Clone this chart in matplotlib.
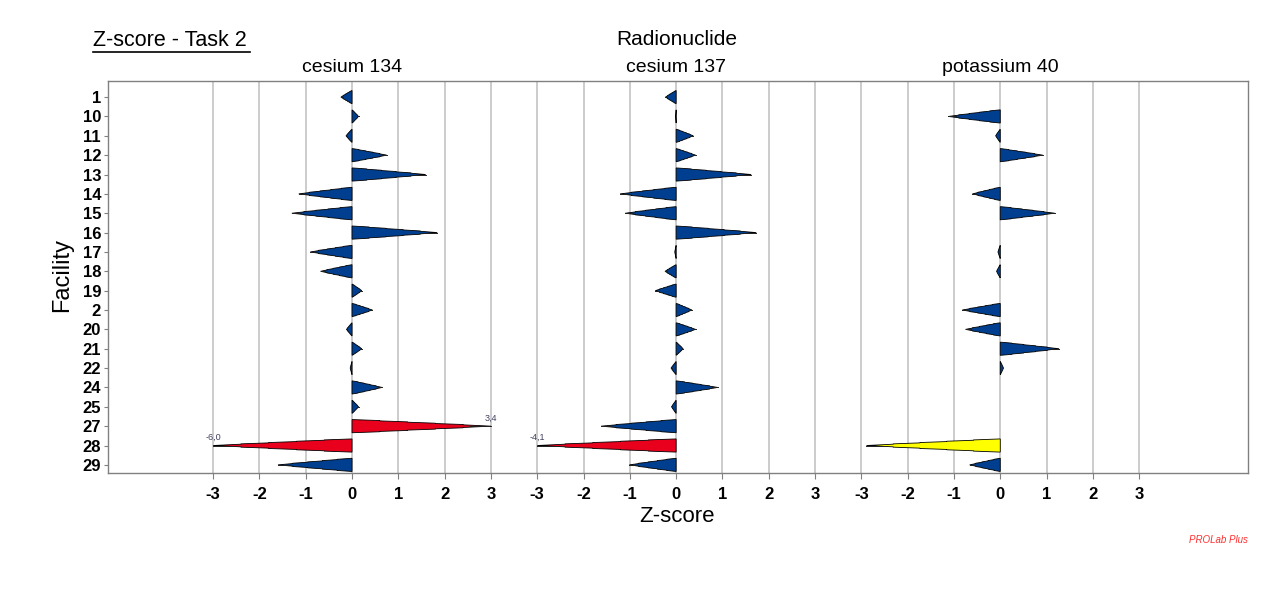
import matplotlib
matplotlib.use("Agg")
import matplotlib.pyplot as plt
from matplotlib.lines import Line2D
from matplotlib.transforms import blended_transform_factory
import numpy as np

# data
facilities = ['1', '10', '11', '12', '13', '14', '15', '16', '17', '18',
              '19', '2', '20', '21', '22', '24', '25', '27', '28', '29']
nuclides = ['cesium 134', 'cesium 137', 'potassium 40']
cs134 = [-0.24, 0.14, -0.13, 0.75, 1.59, -1.15, -1.30, 1.84, -0.90, -0.68,
         0.21, 0.44, -0.12, 0.21, -0.04, 0.65, 0.14, 3.4, -6.0, -1.60]
cs137 = [-0.23, -0.01, 0.37, 0.42, 1.62, -1.21, -1.10, 1.73, -0.03, -0.24,
         -0.45, 0.34, 0.42, 0.15, -0.11, 0.90, -0.10, -1.62, -4.1, -1.01]
k40 = [np.nan, -1.12, -0.10, 0.92, np.nan, -0.60, 1.18, np.nan, -0.05, -0.08,
       np.nan, -0.82, -0.75, 1.27, 0.07, np.nan, np.nan, np.nan, -2.89, -0.66]
series = [cs134, cs137, k40]
zticks = [-3, -2, -1, 0, 1, 2, 3]

BLUE = '#003f8f'
YELLOW = '#ffff00'
RED = '#e8001c'
FONT = ['Liberation Sans Narrow', 'Liberation Sans', 'DejaVu Sans']
SANS = ['Liberation Sans', 'DejaVu Sans']

fig = plt.figure(figsize=(12.68, 5.94), dpi=100)
ax = fig.add_axes([0.0852, 0.2037, 0.8990, 0.6599])

gap = 7.0
half = 0.34
nstep = 5

for p, vals in enumerate(series):
    off = p * gap
    for k in zticks:
        ax.axvline(off + k, color='#c8c8c8', lw=1.3, zorder=0)
    for i, v in enumerate(vals):
        if np.isnan(v):
            continue
        c = max(-3.0, min(3.0, v))
        a = abs(v)
        col = BLUE if a < 2 else (YELLOW if a < 3 else RED)
        top = []
        for s in range(nstep):
            top.append((off + c * s / nstep, i - half * (1 - s / nstep)))
            top.append((off + c * (s + 1) / nstep, i - half * (1 - (s + 0.75) / nstep)))
        top[-1] = (off + c, i)
        bot = [(x, 2 * i - y) for x, y in reversed(top)]
        poly = plt.Polygon(top + bot, closed=True, facecolor=col,
                           edgecolor='black', lw=0.6, zorder=3)
        ax.add_patch(poly)
        ax.plot([off + c * 0.85, off + c], [i, i], color='#202020', lw=0.7, zorder=4)
        if a > 3:
            ax.text(off + c, i - 0.18, ('%.1f' % v).replace('.', ','),
                    ha='center', va='bottom', fontsize=6.5, color='#404060',
                    family=SANS, zorder=5)

ax.set_xlim(-5.27, 2 * gap + 5.35)
ax.set_ylim(len(facilities) - 1 + 0.42, -0.83)

xt = [p * gap + k for p in range(3) for k in zticks]
ax.set_xticks(xt)
ax.set_xticklabels([str(k) for p in range(3) for k in zticks],
                   fontsize=12, fontweight='bold', family=FONT)
ax.set_yticks(range(len(facilities)))
ax.set_yticklabels(facilities, fontsize=12, fontweight='bold', family=FONT)
ax.tick_params(axis='x', length=4, color='#808080', pad=6)
ax.tick_params(axis='y', length=3, color='#808080', pad=2)
for sp in ax.spines.values():
    sp.set_color('#808080')
    sp.set_linewidth(1.0)

trans = blended_transform_factory(ax.transData, fig.transFigure)
for p, name in enumerate(nuclides):
    ax.text(p * gap, 0.886, name, transform=trans, ha='center', va='center',
            fontsize=14, family=SANS)

fig.text(0.534, 0.933, 'Radionuclide', ha='center', va='center',
         fontsize=15, family=SANS)
fig.text(0.0733, 0.931, 'Z-score - Task 2', ha='left', va='center',
         fontsize=15.5, family=SANS)
fig.add_artist(Line2D([0.0733, 0.1975], [0.9125, 0.9125], color='black', lw=1.2))
fig.text(0.049, 0.537, 'Facility', rotation=90, ha='center', va='center',
         fontsize=17, family=SANS)
fig.text(0.534, 0.131, 'Z-score', ha='center', va='center',
         fontsize=16, family=SANS)
fig.text(0.984, 0.091, 'PROLab Plus', ha='right', va='center', fontsize=7,
         style='italic', color='#ff3030', family=SANS)

fig.savefig('out.png', dpi=100)
